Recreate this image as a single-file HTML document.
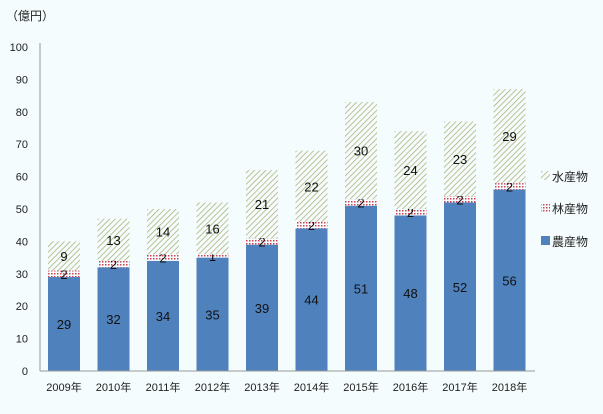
<!DOCTYPE html>
<html><head><meta charset="utf-8"><style>
body{margin:0;background:#f4fcfd;}
svg{display:block;font-family:"Liberation Sans","Noto Sans CJK JP",sans-serif;}
</style></head><body>
<svg id="c" width="603" height="414" viewBox="0 0 603 414">
<defs>
<pattern id="hatch" width="4" height="4" patternUnits="userSpaceOnUse" patternTransform="rotate(45)">
<rect width="4" height="4" fill="#f4fcfd"/><line x1="0" y1="0" x2="0" y2="4" stroke="#a8a868" stroke-width="1.4"/>
</pattern>
<pattern id="dots" width="3" height="3" patternUnits="userSpaceOnUse">
<rect width="3" height="3" fill="#f4fcfd"/><rect width="1.5" height="1.5" fill="#d04050"/>
</pattern>
</defs>
<text x="6" y="20" font-size="12" fill="#222">（億円）</text>
<g id="yaxis"></g><g id="bars"></g><g id="xaxis"></g>
<g>
<rect x="541" y="171" width="9" height="9" fill="url(#hatch)"/>
<text x="552" y="181" font-size="12" fill="#222">水産物</text>
<rect x="541" y="203" width="9" height="9" fill="url(#dots)"/>
<text x="552" y="213" font-size="12" fill="#222">林産物</text>
<rect x="541" y="236" width="9" height="9" fill="#4f81bd"/>
<text x="552" y="246" font-size="12" fill="#222">農産物</text>
</g>
</svg>
<script>
const categories=["2009年","2010年","2011年","2012年","2013年","2014年","2015年","2016年","2017年","2018年"];
const agri=[29,32,34,35,39,44,51,48,52,56];
const forest=[2,2,2,1,2,2,2,2,2,2];
const fish=[9,13,14,16,21,22,30,24,23,29];
const yTicks=[0,10,20,30,40,50,60,70,80,90,100];
const NS="http://www.w3.org/2000/svg";
const y0=371,yTop=47,xL=40,step=49.5,x0=64,bw=32;
const yS=v=>y0-(v/100)*(y0-yTop);
const xS=i=>x0+i*step;
function mk(t,a,p){const e=document.createElementNS(NS,t);for(const k in a)e.setAttribute(k,a[k]);p.appendChild(e);return e;}
const ya=document.getElementById('yaxis'),ba=document.getElementById('bars'),xa=document.getElementById('xaxis');
yTicks.forEach(v=>{const t=mk('text',{x:28,y:yS(v)+4,'font-size':11,'text-anchor':'end',fill:'#222'},ya);t.textContent=v;

});
const al=mk('line',{x1:xL,y1:yTop-4,x2:xL,y2:y0,stroke:'#999'},ya);


const bl=mk('line',{x1:xL,y1:y0,x2:535,y2:y0,stroke:'#999'},xa);


categories.forEach((c,i)=>{
 const cx=xS(i);let base=0;
 [[agri[i],'#4f81bd','agri'],[forest[i],'url(#dots)','forestry'],[fish[i],'url(#hatch)','fishery']].forEach(([v,f,n])=>{
  const r=mk('rect',{x:cx-bw/2,y:yS(base+v),width:bw,height:yS(base)-yS(base+v),fill:f},ba);
  
  
  const t=mk('text',{x:cx,y:(yS(base)+yS(base+v))/2+5,'font-size':13,'text-anchor':'middle',fill:'#111'},ba);
  t.textContent=v;
  
  
  base+=v;});
 const t=mk('text',{x:cx,y:391,'font-size':11,'text-anchor':'middle',fill:'#222'},xa);t.textContent=c;
 
 
});
</script>
</body></html>
